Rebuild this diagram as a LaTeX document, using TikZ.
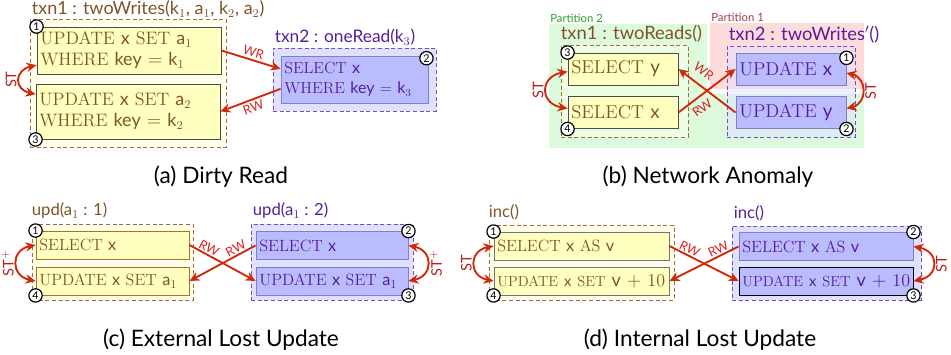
\documentclass[tikz,border=0pt]{standalone}
\usepackage{fontspec}
\setsansfont{Lato}
\usetikzlibrary{positioning}
\usetikzlibrary {arrows.meta}
\definecolor{txtbrown}{RGB}{128,84,40}
\definecolor{txtpurple}{RGB}{84,30,160}
\definecolor{dashbrown}{RGB}{160,110,60}
\definecolor{dashpurple}{RGB}{115,75,205}
\definecolor{opyellow}{RGB}{255,255,192}
\definecolor{txnyellow}{RGB}{255,255,236}
\definecolor{oppurple}{RGB}{187,187,255}
\definecolor{txnpurple}{RGB}{224,224,255}
\definecolor{oporange}{RGB}{180,110,30}
\definecolor{depred}{RGB}{210,40,10}
\definecolor{labred}{RGB}{215,35,35}
\definecolor{partgreen}{RGB}{221,250,221}
\definecolor{partpink}{RGB}{255,220,220}
\definecolor{ptwogreen}{RGB}{40,160,40}
\definecolor{ponered}{RGB}{170,60,60}
\tikzset{opbox/.style={rectangle,draw=black!70,line width=0.7pt,fill=opyellow,text=txtbrown,
inner xsep=2.5pt,inner ysep=3pt,align=left,font=\fontsize{13.5}{15.75}\selectfont}}
\tikzset{opboxp/.style={opbox,draw=black!45!blue!50,fill=oppurple,text=txtpurple}}
\tikzset{txnbox/.style={rectangle,draw=dashbrown,densely dashed,line width=0.6pt,
fill=txnyellow,inner sep=0pt}}
\tikzset{txnboxp/.style={txnbox,draw=dashpurple,fill=txnpurple}}
\tikzset{txnlabel/.style={anchor=south west,inner sep=1.5pt,text=txtbrown,
font=\sffamily\fontsize{13}{15}\selectfont}}
\tikzset{txnlabelp/.style={txnlabel,text=txtpurple}}
\tikzset{partbox/.style={rectangle,draw=none,inner sep=0pt}}
\tikzset{partlabel/.style={anchor=south west,inner sep=1pt,font=\sffamily\fontsize{8.5}{9}\selectfont}}
\tikzset{stepnum/.style={circle,draw=black,line width=0.9pt,fill=white,inner sep=0pt,
minimum size=10pt,font=\sffamily\fontsize{8}{8}\selectfont}}
\tikzset{dep/.style={draw=depred,line width=1.4pt,>={Stealth[length=7.5pt,width=7pt]},->}}
\tikzset{sodep/.style={dep,<->}}
\tikzset{deplabel/.style={sloped,text=labred,inner sep=1pt,font=\sffamily\fontsize{9.5}{10}\selectfont}}
\tikzset{stlabel/.style={rotate=90,text=labred!85!black,inner sep=1.5pt,
font=\sffamily\fontsize{11}{12}\selectfont}}
\tikzset{subcaption/.style={font=\sffamily\fontsize{17}{19}\selectfont}}

\begin{document}
\begin{tikzpicture}[x=0.75pt,y=-0.75pt]
    \useasboundingbox (0,0) rectangle (951,354);

    % (a) dirty read
    \node[txnbox, minimum width=147pt, minimum height=96pt] (txnA1) at (128,83) {};
    \node[txnlabel, font=\sffamily\fontsize{13.5}{15}\selectfont] (labA1) at ([yshift=-0.5pt]txnA1.north west) {txn1 : twoWrites(k$_1$, a$_1$, k$_2$, a$_2$)};
    \node[opbox, text width=133pt, minimum height=35.25pt] (boxA1) at (129,50.5)
        {UPDATE \textsf{x} SET \textsf{a}$_1$\\WHERE \textsf{key} $=$ \textsf{k}$_1$};
    \node[opbox, text width=133pt, minimum height=41.25pt] (boxA2) at (128,111.5)
        {UPDATE \textsf{x} SET \textsf{a}$_2$\\WHERE \textsf{key} $=$ \textsf{k}$_2$};

    \node[txnboxp, minimum width=122.25pt, minimum height=47.25pt] (txnA2) at (354.5,79.5) {};
    \node[txnlabelp] (labA2) at (txnA2.north west) {txn2 : oneRead(k$_3$)};
    \node[opboxp, font=\fontsize{12}{15}\selectfont, text width=105.25pt, minimum height=35.25pt] (boxA3) at (354.5,79.5)
        {SELECT \textsf{x}\\WHERE \textsf{key} $=$ \textsf{k}$_3$};

    \draw[dep] (boxA1.east) -- node[deplabel, above=1pt] {WR} ([yshift=8pt]boxA3.west);
    \draw[dep] ([yshift=-7pt]boxA3.west) -- node[deplabel, below=1pt] {RW} (boxA2.east);
    \draw[sodep] ([yshift=7pt]boxA1.south west) .. controls +(-22,5) and +(-22,-5) ..
        node[stlabel, anchor=south] {ST} ([yshift=-8pt]boxA2.north west);

    \node[stepnum] (numA1) at (boxA1.north west) {1};
    \node[stepnum] (numA3) at (boxA2.south west) {3};
    \node[stepnum] (numA2) at ([xshift=-1.5pt,yshift=-2pt]boxA3.north east) {2};

    \node[subcaption] (capA) at (221,177) {(a) Dirty Read};

    % (b) network anomaly
    \node[partbox, fill=partgreen, minimum width=118.5pt, minimum height=93pt] (partB2) at (628,86) {};
    \node[partbox, fill=partpink, minimum width=115.5pt, minimum height=49.5pt] (partB1) at (787,56) {};
    \node[partbox, fill=partgreen, minimum width=117.75pt, minimum height=40.5pt] (partB2r) at (785.5,121) {};
    \node[partlabel, text=ptwogreen] (labP2) at (partB2.north west) {Partition 2};
    \node[partlabel, text=ponered] (labP1) at (partB1.north west) {Partition 1};

    \node[txnbox, fill opacity=0.5, draw opacity=1, minimum width=95.25pt, minimum height=69pt] (txnB1) at (624.5,91) {};
    \node[txnlabel, font=\sffamily\fontsize{13.8}{15}\selectfont] (labB1) at ([xshift=-1.5pt]txnB1.north west) {txn1 : twoReads()};
    \node[opbox, font=\fontsize{14}{16}\selectfont, text width=77.5pt, minimum height=24pt] (boxB1) at (623,69) {SELECT \textsf{y}};
    \node[opbox, font=\fontsize{14}{16}\selectfont, text width=77.5pt, minimum height=24pt] (boxB2) at (623,112.5) {SELECT \textsf{x}};

    \node[txnboxp, fill opacity=0.5, draw opacity=1, minimum width=96pt, minimum height=68.25pt] (txnB2) at (791,91.5) {};
    \node[txnlabelp, font=\sffamily\fontsize{13.8}{15}\selectfont] (labB2) at (txnB2.north west) {txn2 : twoWrites$'$()};
    \node[opboxp, font=\fontsize{14}{16}\selectfont, text width=77.5pt, minimum height=24pt] (boxB3) at (791,69) {UPDATE \textsf{x}};
    \node[opboxp, font=\fontsize{14}{16}\selectfont, text width=77.5pt, minimum height=24pt] (boxB4) at (791,112.5) {UPDATE \textsf{y}};

    \draw[dep] (boxB4.west) -- node[deplabel, above=5pt, pos=0.7] {WR} (boxB1.east);
    \draw[dep] (boxB2.east) -- node[deplabel, below=3pt, pos=0.3] {RW} (boxB3.west);
    \draw[sodep] ([yshift=-2pt]boxB1.west) .. controls +(-28,5) and +(-28,-5) ..
        node[stlabel, anchor=south] {ST} ([yshift=3pt]boxB2.west);
    \draw[sodep] ([yshift=-3pt]boxB3.east) .. controls +(21,5) and +(21,-5) ..
        node[stlabel, anchor=north] {ST} ([yshift=3pt]boxB4.east);

    \node[stepnum] (numB3) at (boxB1.north west) {3};
    \node[stepnum] (numB4) at (boxB2.south west) {4};
    \node[stepnum] (numB1) at ([yshift=-4pt]boxB3.north east) {1};
    \node[stepnum] (numB2) at (boxB4.south east) {2};

    \node[subcaption] (capB) at (708,177) {(b) Network Anomaly};

    % (c) external lost update
    \node[txnbox, minimum width=120.75pt, minimum height=57pt] (txnC1) at (112.5,262) {};
    \node[txnlabel, font=\sffamily\fontsize{12.5}{14}\selectfont] (labC1) at ([xshift=-1.5pt,yshift=2pt]txnC1.north west) {upd(a$_1$ : 1)};
    \node[opbox, draw=oporange, font=\fontsize{12.2}{14}\selectfont, text width=109.75pt, minimum height=21pt] (boxC1) at (112.5,245) {SELECT \textsf{x}};
    \node[opbox, draw=oporange, font=\fontsize{12.2}{14}\selectfont, text width=109.75pt, minimum height=21pt] (boxC2) at (112.5,281) {UPDATE \textsf{x} SET \textsf{a}$_1$};

    \node[txnboxp, minimum width=121.5pt, minimum height=57pt] (txnC2) at (332,262) {};
    \node[txnlabelp, font=\sffamily\fontsize{12.5}{14}\selectfont] (labC2) at ([yshift=2pt]txnC2.north west) {upd(a$_1$ : 2)};
    \node[opboxp, font=\fontsize{12.2}{14}\selectfont, text width=109pt, minimum height=21pt] (boxC3) at (332,245.5) {SELECT \textsf{x}};
    \node[opboxp, font=\fontsize{12.2}{14}\selectfont, text width=109pt, minimum height=21pt] (boxC4) at (332,281) {UPDATE \textsf{x} SET \textsf{a}$_1$};

    \draw[dep] (boxC1.east) -- node[deplabel, above, pos=0.25] {RW} (boxC4.west);
    \draw[dep] (boxC3.west) -- node[deplabel, above, pos=0.25] {RW} (boxC2.east);
    \draw[sodep] (boxC1.west) .. controls +(-25,5) and +(-25,-5) ..
        node[stlabel, anchor=south] {ST$^+$} (boxC2.west);
    \draw[sodep] (boxC3.east) .. controls +(25,5) and +(25,-5) ..
        node[stlabel, anchor=north] {ST$^+$} (boxC4.east);

    \node[stepnum] (numC1) at (boxC1.north west) {1};
    \node[stepnum] (numC4) at (boxC2.south west) {4};
    \node[stepnum] (numC2) at (boxC3.north east) {2};
    \node[stepnum] (numC3) at (boxC4.south east) {3};

    \node[subcaption] (capC) at (221,340) {(c) External Lost Update};

    % (d) internal lost update
    \node[txnbox, minimum width=138.75pt, minimum height=56.25pt] (txnD1) at (581.5,262.5) {};
    \node[txnlabel, font=\sffamily\fontsize{12.5}{14}\selectfont] (labD1) at ([xshift=-1.5pt,yshift=2pt]txnD1.north west) {inc()};
    \node[opbox, draw=black!55, font=\fontsize{12.2}{14}\selectfont, text width=126.25pt, minimum height=21pt] (boxD1) at (581.5,246) {SELECT \textsf{x} AS \textsf{v}};
    \node[opbox, draw=black!55, font=\fontsize{13.5}{15}\selectfont, text width=126.25pt, minimum height=21pt] (boxD2) at (581.5,281)
        {\mbox{{\fontsize{11}{13}\selectfont UPDATE \textsf{x} SET} \textsf{v} $+$ 10}};

    \node[txnboxp, minimum width=141.75pt, minimum height=55.5pt] (txnD2) at (826.5,263) {};
    \node[txnlabelp, font=\sffamily\fontsize{12.5}{14}\selectfont] (labD2) at ([yshift=2pt]txnD2.north west) {inc()};
    \node[opboxp, font=\fontsize{12.2}{14}\selectfont, text width=125.5pt, minimum height=21pt] (boxD3) at (826,246.5) {SELECT \textsf{x} AS \textsf{v}};
    \node[opboxp, draw=black, font=\fontsize{13.5}{15}\selectfont, text width=125.5pt, minimum height=21pt] (boxD4) at (826,281)
        {\mbox{{\fontsize{11}{13}\selectfont UPDATE \textsf{x} SET} \textsf{v} $+$ 10}};

    \draw[dep] (boxD1.east) -- node[deplabel, above, pos=0.25] {RW} (boxD4.west);
    \draw[dep] (boxD3.west) -- node[deplabel, above, pos=0.25] {RW} (boxD2.east);
    \draw[sodep] (boxD1.west) .. controls +(-25,5) and +(-25,-5) ..
        node[stlabel, anchor=south] {ST} (boxD2.west);
    \draw[sodep] (boxD3.east) .. controls +(26,5) and +(26,-5) ..
        node[stlabel, anchor=north] {ST} (boxD4.east);

    \node[stepnum] (numD1) at (boxD1.north west) {1};
    \node[stepnum] (numD4) at (boxD2.south west) {4};
    \node[stepnum] (numD2) at (boxD3.north east) {2};
    \node[stepnum] (numD3) at (boxD4.south east) {3};

    \node[subcaption] (capD) at (700,340) {(d) Internal Lost Update};

\end{tikzpicture}
\end{document}
